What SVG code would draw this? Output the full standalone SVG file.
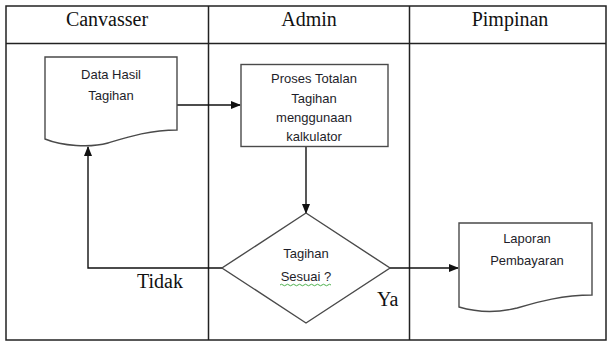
<svg xmlns="http://www.w3.org/2000/svg" width="608" height="343" viewBox="0 0 608 343">
<defs>
<marker id="ah" markerWidth="10" markerHeight="8" refX="9" refY="4" orient="auto" markerUnits="userSpaceOnUse">
<path d="M0,0 L10,4 L0,8 Z" fill="#111"/>
</marker>
<style>
.grid{fill:none;stroke:#222;stroke-width:1.5}
.shape{fill:#fff;stroke:#4a4a4a;stroke-width:1.4}
.hdr{font-family:"Liberation Serif","Times New Roman",serif;font-size:20px;fill:#111;text-anchor:middle}
.lbl{font-family:"Liberation Serif","Times New Roman",serif;font-size:20px;fill:#111}
.t{font-family:"Liberation Sans",Arial,sans-serif;font-size:13px;fill:#1e1e2a;text-anchor:middle}
.conn{fill:none;stroke:#111;stroke-width:1.4}
</style>
</defs>
<rect width="608" height="343" fill="#fff"/>
<g id="swimlanes">
<rect class="grid" x="6" y="6" width="600" height="334"/>
<line class="grid" x1="6" y1="43.5" x2="606" y2="43.5"/>
<line class="grid" x1="208.5" y1="6" x2="208.5" y2="340"/>
<line class="grid" x1="409.5" y1="6" x2="409.5" y2="340"/>
<text class="hdr" x="107" y="26">Canvasser</text>
<text class="hdr" x="309" y="26">Admin</text>
<text class="hdr" x="510" y="26">Pimpinan</text>
</g>
<g id="connectors">
<line class="conn" x1="177" y1="105" x2="240" y2="105" marker-end="url(#ah)"/>
<line class="conn" x1="306" y1="147" x2="306" y2="213" marker-end="url(#ah)"/>
<polyline class="conn" points="222,268 88,268 88,147" marker-end="url(#ah)"/>
<line class="conn" x1="390" y1="268" x2="458" y2="268" marker-end="url(#ah)"/>
<text class="lbl" x="137" y="288">Tidak</text>
<text class="lbl" x="377" y="306">Ya</text>
</g>
<g id="data-hasil-tagihan">
<path class="shape" d="M45,57 H177 V130 C150,130 128,137 108,143 C90,148 62,146 45,139 Z"/>
<text class="t" x="111" y="79">Data Hasil</text>
<text class="t" x="111" y="100">Tagihan</text>
</g>
<g id="proses-totalan">
<rect class="shape" x="241" y="64.5" width="147" height="82"/>
<text class="t" x="314" y="83">Proses Totalan</text>
<text class="t" x="314" y="102.5">Tagihan</text>
<text class="t" x="314" y="121.5">menggunaan</text>
<text class="t" x="314" y="140.5">kalkulator</text>
</g>
<g id="tagihan-sesuai">
<polygon class="shape" points="306,213 390,268 306,323 222,268"/>
<text class="t" x="306" y="258">Tagihan</text>
<text class="t" x="306" y="281">Sesuai ?</text>
<path d="M280,285 q1.5,-1.5 3,0 t3,0 t3,0 t3,0 t3,0 t3,0 t3,0 t3,0 t3,0 t3,0 t3,0 t3,0 t3,0 t3,0 t3,0 t3,0 t3,0" fill="none" stroke="#3aa83a" stroke-width="0.9"/>
</g>
<g id="laporan-pembayaran">
<path class="shape" d="M459,223 H592 V295 C562,295 538,302 517,308 C497,313 476,312 459,307 Z"/>
<text class="t" x="527" y="243">Laporan</text>
<text class="t" x="527" y="265">Pembayaran</text>
</g>
</svg>
